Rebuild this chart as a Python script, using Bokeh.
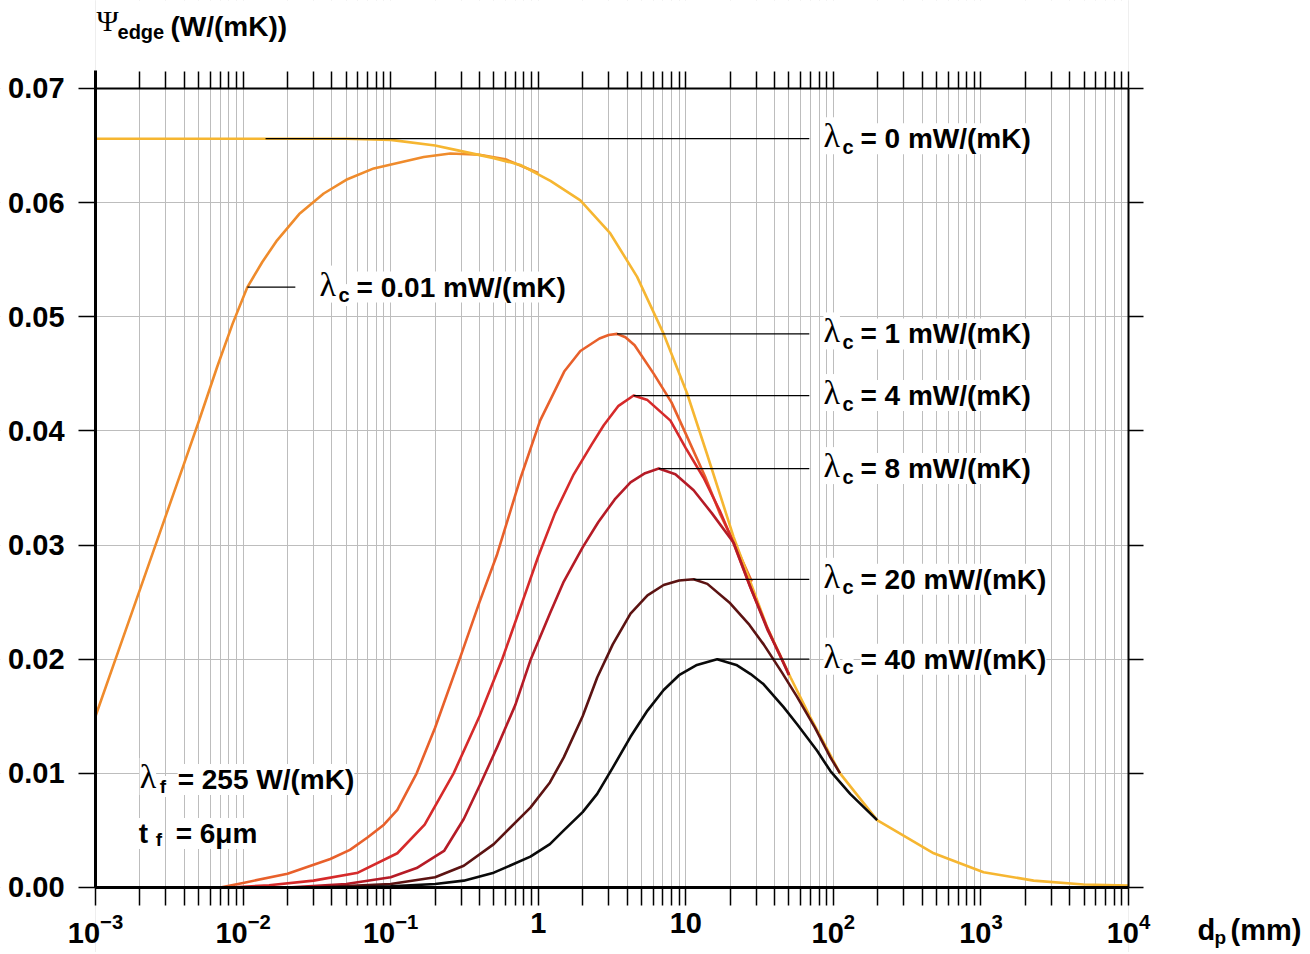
from bokeh.plotting import figure
from bokeh.models import (FixedTicker, LogAxis, LinearAxis, Label, Range1d, BoxAnnotation,
                          PrintfTickFormatter, LogTickFormatter)
from bokeh.embed import file_html
from bokeh.resources import INLINE

# ---------------- data ----------------
dp_c0 = [0.001, 0.01, 0.05, 0.1, 0.2, 0.28, 0.5, 0.757, 1.21, 1.93, 3.08, 4.68, 7.08,
         10.2, 13.9, 21.1, 27.5, 35.6, 51.3, 69.8, 111, 198, 479, 1042, 2275, 4966, 10000]
psi_c0 = [0.0656, 0.0656, 0.0656, 0.0655, 0.0650, 0.0646, 0.0639, 0.0633, 0.0619, 0.0602,
          0.0573, 0.0535, 0.0485, 0.0433, 0.0380, 0.0307, 0.0267, 0.0228, 0.0184, 0.0149,
          0.0100, 0.0059, 0.0030, 0.00134, 0.0006, 0.00026, 0.00018]

dp_c001 = [0.001, 0.0015, 0.002, 0.003, 0.004, 0.005, 0.00667, 0.0085, 0.0107, 0.0135,
           0.017, 0.024, 0.0352, 0.05, 0.0768, 0.1675, 0.254, 0.4, 0.6, 1.0]
psi_c001 = [0.0150, 0.0215, 0.0261, 0.0326, 0.0372, 0.0408, 0.0456, 0.0494, 0.0526, 0.0548,
            0.0567, 0.0590, 0.0608, 0.0620, 0.0630, 0.0640, 0.0643, 0.0642, 0.0638, 0.0626]

dp_c1 = [0.007, 0.01, 0.02, 0.039, 0.053, 0.07, 0.09, 0.111, 0.15, 0.2, 0.297, 0.4, 0.527,
         0.76, 1.03, 1.5, 1.93, 2.6, 3.0, 3.42, 3.9, 4.5, 6.07, 8.0, 10.2, 13.5, 17.1, 22, 28]
psi_c1 = [0.0, 0.0004, 0.0012, 0.0025, 0.0033, 0.0044, 0.0055, 0.0068, 0.0100, 0.0140,
          0.0202, 0.0250, 0.0292, 0.0359, 0.0409, 0.0452, 0.0470, 0.0481, 0.0484, 0.0485,
          0.0482, 0.0475, 0.0450, 0.0425, 0.0395, 0.0360, 0.0327, 0.0298, 0.0268]

dp_c4 = [0.008, 0.015, 0.03, 0.06, 0.111, 0.17, 0.267, 0.4, 0.57, 0.78, 1.0, 1.3, 1.74,
         2.3, 2.78, 3.5, 4.43, 5.5, 7.87, 10.0, 13.2, 17.0, 21.0, 27.0, 35.0, 42.0, 50.0]
psi_c4 = [0.0, 0.0002, 0.0006, 0.0013, 0.0030, 0.0055, 0.0100, 0.0150, 0.0200, 0.0250,
          0.0290, 0.0328, 0.0362, 0.0388, 0.0405, 0.0422, 0.0431, 0.0427, 0.0409, 0.0385,
          0.0359, 0.0330, 0.0302, 0.0265, 0.0230, 0.0207, 0.0187]

dp_c8 = [0.02, 0.05, 0.1, 0.15, 0.23, 0.313, 0.41, 0.527, 0.7, 0.885, 1.2, 1.49, 2.0, 2.55,
         3.3, 4.22, 5.3, 6.56, 8.5, 11.3, 15.0, 21.1, 28.0, 36.0, 43.0, 50.0]
psi_c8 = [0.0, 0.0003, 0.0009, 0.0017, 0.0032, 0.0060, 0.0092, 0.0123, 0.0160, 0.0199,
          0.0240, 0.0268, 0.0298, 0.0320, 0.0340, 0.0355, 0.0363, 0.0367, 0.0362, 0.0348,
          0.0328, 0.0302, 0.0260, 0.0225, 0.0205, 0.0186]

dp_c20 = [0.03, 0.1, 0.2, 0.313, 0.5, 0.885, 1.2, 1.49, 2.0, 2.51, 3.2, 4.22, 5.5, 7.08,
          9.0, 11.3, 14.0, 20.0, 27.0, 33.7, 45.0, 56.8, 75.0, 95.5, 111]
psi_c20 = [0.0, 0.0003, 0.0009, 0.0019, 0.0038, 0.0070, 0.0092, 0.0114, 0.0150, 0.0184,
           0.0213, 0.0240, 0.0256, 0.0265, 0.0269, 0.0270, 0.0266, 0.0249, 0.0230, 0.0213,
           0.0188, 0.0167, 0.0140, 0.0114, 0.0100]

dp_c40 = [0.05, 0.1, 0.2, 0.313, 0.5, 0.885, 1.2, 1.49, 2.0, 2.51, 3.2, 4.22, 5.5, 7.08,
          9.0, 11.9, 16.3, 22.0, 27.5, 33.7, 46.0, 56.8, 77.4, 95.5, 130, 198]
psi_c40 = [0.0, 0.0001, 0.0003, 0.0006, 0.0013, 0.0027, 0.0038, 0.0050, 0.0066, 0.0082,
           0.0105, 0.0132, 0.0155, 0.0173, 0.0186, 0.0195, 0.0200, 0.0195, 0.0187, 0.0178,
           0.0158, 0.0143, 0.0120, 0.0102, 0.0082, 0.0059]

# curve label texts and leader lines (start x on the curve, level, end x)
lam_c_values = ["0", "0.01", "1", "4", "8", "20", "40"]
leader_x_start = [0.0142, 0.0107, 3.42, 4.43, 6.56, 11.3, 16.3]
leader_level = [0.0656, 0.0526, 0.0485, 0.0431, 0.0367, 0.0270, 0.0200]
leader_x_end = [68.7, 0.0226, 68.7, 68.7, 68.7, 68.7, 68.7]
label_x = [80.5, 0.031, 80.5, 80.5, 80.5, 80.5, 80.5]

x_decades = [1e-3, 1e-2, 1e-1, 1, 10, 100, 1000, 10000]
x_minor = [m * 10.0 ** e for e in range(-3, 4) for m in range(2, 10)]
y_ticks = [0.0, 0.01, 0.02, 0.03, 0.04, 0.05, 0.06, 0.07]

series = [
    (dp_c001, psi_c001, "#EF8B2C"),
    (dp_c1, psi_c1, "#E8602B"),
    (dp_c0, psi_c0, "#F6B631"),
    (dp_c4, psi_c4, "#D62A2A"),
    (dp_c8, psi_c8, "#B51B26"),
    (dp_c20, psi_c20, "#5C1312"),
    (dp_c40, psi_c40, "#0A0A0A"),
]

SANS = "Liberation Sans"
SERIF = "Liberation Serif"

# the whole canvas is the frame; axes sit at fixed data locations
W, H = 1308, 952
XLO, XHI = 10 ** -3.6438, 10 ** 5.2197
YLO, YHI = -0.0056946, 0.077709
X0, X1 = x_decades[0], x_decades[-1]
Y0, Y1 = y_ticks[0], y_ticks[-1]

p = figure(width=W, height=H, x_axis_type="log",
           x_range=Range1d(XLO, XHI), y_range=Range1d(YLO, YHI),
           output_backend="svg", toolbar_location=None, min_border=0)
p.outline_line_color = None
p.background_fill_color = "white"
p.border_fill_color = "white"

xt = FixedTicker(ticks=x_decades, minor_ticks=x_minor)
yt = FixedTicker(ticks=y_ticks)

# bottom axis
xb = p.xaxis[0]
xb.fixed_location = Y0
xb.bounds = (X0, X1)
xb.ticker = xt
xb.formatter = LogTickFormatter()
xb.major_label_overrides = {1: "1", 10: "10"}
xb.major_label_text_font = SANS
xb.major_label_text_font_style = "bold"
xb.major_label_text_font_size = "29px"
xb.major_label_text_color = "black"
xb.major_label_standoff = 8
xb.major_tick_out = 18
xb.major_tick_in = 0
xb.minor_tick_out = 18
xb.minor_tick_in = 0
xb.axis_line_width = 3
xb.major_tick_line_width = 1.5
xb.minor_tick_line_width = 1.5

# left axis
yl = p.yaxis[0]
yl.fixed_location = X0
yl.bounds = (Y0, 0.0716)
yl.ticker = yt
yl.formatter = PrintfTickFormatter(format="%.2f")
yl.major_label_text_font = SANS
yl.major_label_text_font_style = "bold"
yl.major_label_text_font_size = "29px"
yl.major_label_text_color = "black"
yl.major_label_standoff = 14
yl.major_tick_out = 17
yl.major_tick_in = 0
yl.minor_tick_out = 0
yl.minor_tick_in = 0
yl.axis_line_width = 3
yl.major_tick_line_width = 1.5

# top axis (ticks only)
xa = LogAxis(ticker=xt, fixed_location=Y1, bounds=(X0, X1),
             major_label_overrides={t: "" for t in x_decades},
             major_tick_out=17, major_tick_in=0, minor_tick_out=17, minor_tick_in=0,
             axis_line_width=2, major_tick_line_width=1.5, minor_tick_line_width=1.5)
p.add_layout(xa, "above")

# right axis (ticks only)
yr = LinearAxis(ticker=yt, fixed_location=X1, bounds=(Y0, Y1),
                major_label_overrides={t: "" for t in y_ticks},
                major_tick_out=15, major_tick_in=0, minor_tick_out=0, minor_tick_in=0,
                axis_line_width=2, major_tick_line_width=1.5)
p.add_layout(yr, "right")

p.xgrid.grid_line_color = "#bdbdbd"
p.xgrid.minor_grid_line_color = "#bdbdbd"
p.xgrid.grid_line_width = 1
p.ygrid.grid_line_color = "#bdbdbd"
p.ygrid.grid_line_width = 1

# white masks so that the grid stays inside the plotting box
for l, r, b, t in [(XLO, X0, YLO, YHI), (X1, XHI, YLO, YHI),
                   (X0, X1, Y1, YHI), (X0, X1, YLO, Y0)]:
    p.add_layout(BoxAnnotation(left=l, right=r, bottom=b, top=t, fill_color="white",
                               fill_alpha=1, line_color=None, level="underlay"))

for xs, ys, col in series:
    p.line(xs, ys, line_color=col, line_width=2.6, line_join="round")

p.segment(x0=leader_x_start, y0=leader_level, x1=leader_x_end, y1=leader_level,
          line_color="black", line_width=1.2)


def lab(x, y, text, font, size, style="bold", xo=0, yo=0, bg=True):
    p.add_layout(Label(x=x, y=y, text=text, text_font=font, text_font_size=size,
                       text_font_style=style, x_offset=xo, y_offset=yo,
                       text_baseline="middle", text_align="left", text_color="black",
                       background_fill_color="white" if bg else None))


for lx, ly, v in zip(label_x, leader_level, lam_c_values):
    lab(lx, ly, "\u03bb", SERIF, "34px", "normal", 4, 3)
    lab(lx, ly, "c", SANS, "20px", "bold", 23, -8)
    lab(lx, ly, "= " + v + " mW/(mK)", SANS, "28px", "bold", 41, 0)

# parameter texts, bottom left
lab(0.00196, 0.00946, "\u03bb", SERIF, "34px", "normal", 1, 3)
lab(0.00196, 0.00946, "f", SANS, "19px", "bold", 21, -7)
lab(0.00196, 0.00946, "= 255 W/(mK)", SANS, "28px", "bold", 39, 0)
lab(0.00196, 0.00473, "t", SANS, "28px", "bold", 0, 0)
lab(0.00196, 0.00473, "f", SANS, "19px", "bold", 17, -6)
lab(0.00196, 0.00473, "= 6\u03bcm", SANS, "28px", "bold", 37, 0)

# axis titles
lab(0.001, 0.0755, "\u03a8", SERIF, "30px", "normal", 1, 5, False)
lab(0.001, 0.0755, "edge", SANS, "20px", "bold", 22, -6, False)
lab(0.001, 0.0755, "(W/(mK))", SANS, "28px", "bold", 75, -1, False)

lab(29350, -0.00375, "d", SANS, "29px", "bold", 0, 0, False)
lab(29350, -0.00375, "p", SANS, "19px", "bold", 17, -7, False)
lab(29350, -0.00375, "(mm)", SANS, "29px", "bold", 33, 0, False)

open("out.html", "w").write(file_html(p, INLINE))
